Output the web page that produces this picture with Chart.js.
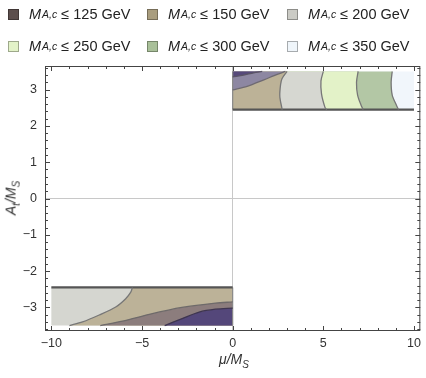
<!DOCTYPE html>
<html>
<head>
<meta charset="utf-8">
<script src="https://cdn.jsdelivr.net/npm/chart.js@4.4.1/dist/chart.umd.min.js"></script>
<style>
  body { margin: 0; background: #fff; }
  #wrap { position: relative; width: 426px; height: 378px; font-family: "Liberation Sans", Arial, sans-serif; color: #222; }
  #chart { position: absolute; left: 0; top: 0; }
  #legend { position: absolute; left: 8px; top: -2px; display: grid; grid-template-columns: 139px 140px 139px; grid-auto-rows: 32px; font-size: 14.5px; }
  .item { display: flex; align-items: center; white-space: nowrap; }
  .box { width: 9px; height: 9px; border: 1px solid rgba(0,0,0,0.3); margin-right: 10px; }
  .item sub { font-size: 10.5px; margin-left: 1px; }
  .title { position: absolute; font-size: 14px; font-style: italic; white-space: nowrap; color: #333; }
  .title sub { font-size: 10px; }
  #xtitle { left: 234px; top: 351px; transform: translateX(-50%); }
  #ytitle { left: 12px; top: 198px; transform: translate(-50%, -50%) rotate(-90deg); }
</style>
</head>
<body>
<div id="wrap">
  <canvas id="chart" width="426" height="378"></canvas>
  <div id="legend"></div>
  <div class="title" id="xtitle">μ/M<sub>S</sub></div>
  <div class="title" id="ytitle">A<sub>t</sub>/M<sub>S</sub></div>
</div>
<script>
// legend
const levels = [125, 150, 200, 250, 300, 350];
const legendColors = ['#5c4e4c', '#a99d7e', '#cbcbc5', '#e3f3c8', '#a9c099', '#eff5fa'];

// axis ticks
const xTickValues = [-10, -5, 0, 5, 10];
const yTickValues = [-3, -2, -1, 0, 1, 2, 3];

// the two allowed regions (mu/MS range, At/MS range)
const upperMu = [0, 10];
const upperA = [2.45, 3.5];
const lowerMu = [-10, 0];
const lowerA = [-3.5, -2.45];

// contour curves in the upper region, [mu, At]
const upDark = [[0, 3.35], [0.6, 3.4], [1.15, 3.46], [1.63, 3.5]];
const up125 = [[0, 2.99], [0.8, 3.09], [1.72, 3.27], [2.46, 3.42], [2.91, 3.5]];
const up150 = [[3.0, 3.5], [2.72, 3.3], [2.64, 3.13], [2.6, 2.81], [2.73, 2.45]];
const up200 = [[5.0, 3.5], [4.87, 3.24], [4.9, 2.88], [5.09, 2.51], [5.18, 2.45]];
const up250 = [[6.92, 3.5], [6.83, 3.2], [6.89, 2.85], [7.1, 2.55], [7.2, 2.45]];
const up300 = [[8.8, 3.5], [8.74, 3.2], [8.8, 2.85], [9.05, 2.55], [9.15, 2.45]];

// contour curves in the lower region
const lo200 = [[-5.53, -2.45], [-5.62, -2.58], [-5.9, -2.76], [-6.45, -2.99], [-7.36, -3.21], [-8.28, -3.4], [-9.0, -3.5]];
const lo150 = [[-7.3, -3.5], [-6.0, -3.37], [-4.6, -3.19], [-2.8, -3.0], [-0.95, -2.88], [0, -2.85]];
const lo125 = [[-3.75, -3.5], [-2.75, -3.3], [-1.85, -3.13], [-0.95, -3.05], [0, -3.02]];

const upColors = {dark: '#56497a', c125: '#8d87a2', c150: '#bcb297', c200: '#d6d7d1', c250: '#e3f2c8', c300: '#b3c7a5', c350: '#f1f6fb'};
const loColors = {dark: '#54477a', c125: '#8c7d7d', c150: '#bcb298', c200: '#d5d6d0'};

function pts(arr) { return arr.map(([x, y]) => ({x, y})); }
function poly(arr, color, order) {
    return {data: pts(arr), showLine: true, fill: 'shape', backgroundColor: color,
        borderColor: 'rgba(0,0,0,0)', borderWidth: 0, pointRadius: 0, tension: 0, order};
}
function curve(arr, color, width) {
    return {data: pts(arr), showLine: true, fill: false, borderColor: color,
        borderWidth: width, pointRadius: 0, tension: 0.3, order: 0};
}

const uBox = [[upperMu[0], upperA[0]], [upperMu[1], upperA[0]], [upperMu[1], upperA[1]], [upperMu[0], upperA[1]]];
const lBox = [[lowerMu[0], lowerA[0]], [lowerMu[1], lowerA[0]], [lowerMu[1], lowerA[1]], [lowerMu[0], lowerA[1]]];
const uTL = [upperMu[0], upperA[1]], uBL = [upperMu[0], upperA[0]];
const lBR = [lowerMu[1], lowerA[0]], lTR = [lowerMu[1], lowerA[1]];

const datasets = [
    poly(uBox, upColors.c350, 20),
    poly([uTL, ...up300, uBL], upColors.c300, 19),
    poly([uTL, ...up250, uBL], upColors.c250, 18),
    poly([uTL, ...up200, uBL], upColors.c200, 17),
    poly([uTL, ...up150, uBL], upColors.c150, 16),
    poly([...up125, uTL], upColors.c125, 15),
    poly([...upDark, uTL], upColors.dark, 14),
    poly(lBox, loColors.c200, 20),
    poly([...lo200, lBR, lTR], loColors.c150, 16),
    poly([...lo150, lBR], loColors.c125, 15),
    poly([...lo125, lBR], loColors.dark, 14),
    curve(upDark, '#5a5466', 1.3),
    curve(up125, '#6e6a72', 1.3),
    curve(up150, '#777', 1.3),
    curve(up200, '#777', 1.3),
    curve(up250, '#777', 1.3),
    curve(up300, '#777', 1.3),
    curve(lo200, '#777', 1.3),
    curve(lo150, '#6e6a6a', 1.3),
    curve(lo125, '#3e3550', 1.3),
    curve([uBL, [upperMu[1], upperA[0]]], '#555', 2.2),
    curve([uBL, uTL], '#888', 1.2),
    curve([[lowerMu[0], lowerA[1]], lTR], '#555', 2.2),
    curve([lTR, lBR], '#888', 1.2)
];

// html legend
const legend = document.getElementById('legend');
levels.forEach((lv, i) => {
    const d = document.createElement('div');
    d.className = 'item';
    d.innerHTML = `<span class="box" style="background:${legendColors[i]}"></span><i>M</i><sub><i>A,c</i></sub>&nbsp;≤ ${lv} GeV`;
    legend.appendChild(d);
});

// inward frame ticks on all four sides
const frameTicks = {
    id: 'frameTicks',
    afterDraw(chart) {
        const {ctx, chartArea: a, scales: {x, y}} = chart;
        ctx.save();
        ctx.strokeStyle = '#444';
        ctx.lineWidth = 1;
        ctx.strokeRect(a.left + 0.5, a.top + 0.5, a.right - a.left - 1, a.bottom - a.top - 1);
        ctx.beginPath();
        for (let v = -10; v <= 10; v += 1) {
            const px = Math.round(x.getPixelForValue(v)) + 0.5;
            const len = xTickValues.includes(v) ? 5 : 3;
            ctx.moveTo(px, a.bottom); ctx.lineTo(px, a.bottom - len);
            ctx.moveTo(px, a.top); ctx.lineTo(px, a.top + len);
        }
        for (let k = -18; k <= 18; k++) {
            const v = k / 5;
            const py = Math.round(y.getPixelForValue(v)) + 0.5;
            const len = k % 5 === 0 ? 5 : 3;
            ctx.moveTo(a.left, py); ctx.lineTo(a.left + len, py);
            ctx.moveTo(a.right, py); ctx.lineTo(a.right - len, py);
        }
        ctx.stroke();
        ctx.restore();
    }
};

const minus = v => v < 0 ? '−' + Math.abs(v) : String(v);

new Chart(document.getElementById('chart'), {
    type: 'scatter',
    data: { datasets },
    options: {
        responsive: false,
        animation: false,
        events: [],
        layout: { padding: { top: 66, right: 4, left: 0, bottom: 0 } },
        plugins: { legend: { display: false }, tooltip: { enabled: false } },
        scales: {
            x: {
                type: 'linear', min: -10.35, max: 10.35,
                afterBuildTicks: s => { s.ticks = xTickValues.map(v => ({value: v})); },
                afterFit: s => { s.height = 47; },
                ticks: { callback: minus, color: '#333', padding: 5, maxRotation: 0,
                    font: { family: 'Liberation Sans', size: 12.5 } },
                grid: { color: c => c.tick && c.tick.value === 0 ? '#c8c8c8' : 'rgba(0,0,0,0)', drawTicks: false },
                border: { display: false }
            },
            y: {
                type: 'linear', min: -3.65, max: 3.65,
                afterBuildTicks: s => { s.ticks = yTickValues.map(v => ({value: v})); },
                afterFit: s => { s.width = 45; },
                ticks: { callback: minus, color: '#333', padding: 8,
                    font: { family: 'Liberation Sans', size: 12.5 } },
                grid: { color: c => c.tick && c.tick.value === 0 ? '#c8c8c8' : 'rgba(0,0,0,0)', drawTicks: false },
                border: { display: false }
            }
        }
    },
    plugins: [frameTicks]
});
</script>
</body>
</html>
